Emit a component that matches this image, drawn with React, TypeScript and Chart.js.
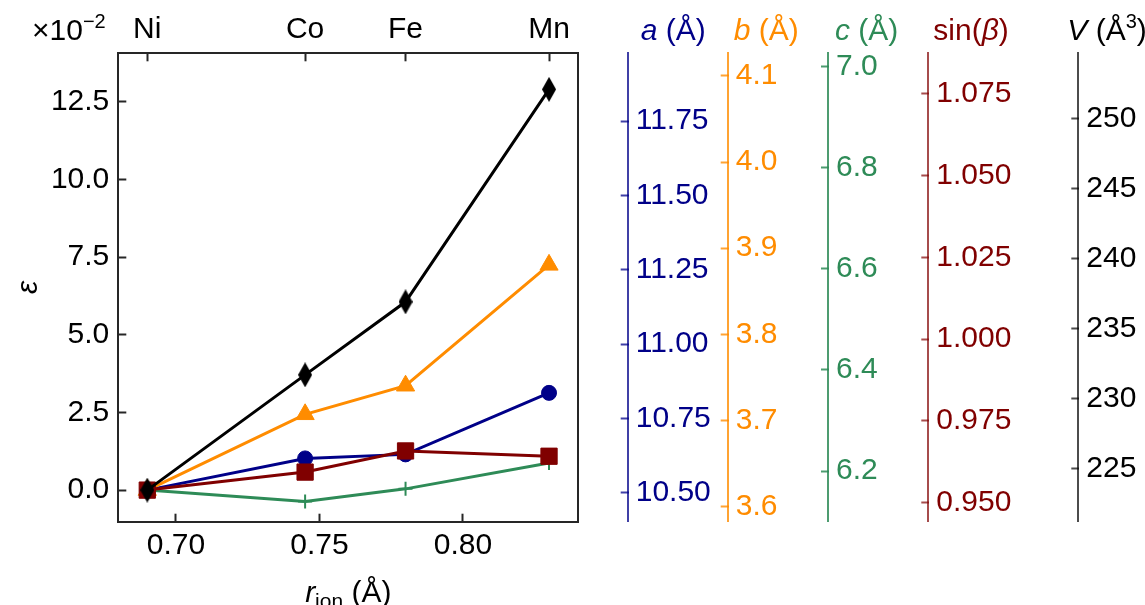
import React, { useEffect, useRef } from 'react';
import { Chart, registerables } from 'chart.js';

Chart.register(...registerables);

// ---------------- data ----------------
const elements = ['Ni', 'Co', 'Fe', 'Mn'];
const rIon = [0.69, 0.745, 0.78, 0.83];
const strainA = [0, 1.02, 1.15, 3.13];
const strainB = [0, 2.44, 3.36, 7.25];
const strainC = [0, -0.37, 0.04, 0.87];
const strainSinBeta = [0, 0.58, 1.26, 1.09];
const strainV = [0, 3.71, 6.06, 12.9];

const xTicks = [0.7, 0.75, 0.8];
const yTicks = [0, 2.5, 5, 7.5, 10, 12.5];
const aTicks = [10.5, 10.75, 11.0, 11.25, 11.5, 11.75];
const bTicks = [3.6, 3.7, 3.8, 3.9, 4.0, 4.1];
const cTicks = [6.2, 6.4, 6.6, 6.8, 7.0];
const sinTicks = [0.95, 0.975, 1.0, 1.025, 1.05, 1.075];
const vTicks = [225, 230, 235, 240, 245, 250];

const xRange = [0.6799, 0.8402];
const yRange = [-1.017, 14.06];
const aRange = [10.4026, 11.9785];
const bRange = [3.5826, 4.1262];
const cRange = [6.0999, 7.0257];
const sinRange = [0.9442, 1.0874];
const vRange = [221.19, 254.69];

// ---------------- style ----------------
const FONT = '"Liberation Sans", Arial, Helvetica, sans-serif';
const SIZE = 30;
const BLUE = '#000088';
const ORANGE = '#FF8C00';
const GREEN = '#2E8B57';
const RED = '#800000';
const BLACK = '#000000';
const FRAME = '#262626';

const W = 1145;
const H = 605;
const LEFT_W = 118.3;
const TOP_H = 53.3;
const BOTTOM_H = 83.3;
const TITLE_BASE = 40;

function makeDiamond(w: number, h: number, color: string) {
  const c = document.createElement('canvas');
  c.width = w;
  c.height = h;
  const g = c.getContext('2d')!;
  g.fillStyle = color;
  g.beginPath();
  g.moveTo(w / 2, 0);
  g.lineTo(w, h / 2);
  g.lineTo(w / 2, h);
  g.lineTo(0, h / 2);
  g.closePath();
  g.fill();
  return c;
}

function extraAxis(weight: number, color: string, lineColor: string, range: number[], ticks: number[], decimals: number, width: number) {
  return {
    type: 'linear',
    axis: 'y',
    position: 'right',
    weight,
    min: range[0],
    max: range[1],
    afterBuildTicks: (s: any) => {
      s.ticks = ticks.map((v) => ({ value: v }));
    },
    afterFit: (s: any) => {
      s.width = width;
    },
    grid: { drawOnChartArea: false, drawTicks: true, tickLength: -7, tickWidth: 2, tickColor: lineColor },
    border: { display: true, color: lineColor, width: 2 },
    ticks: {
      color,
      padding: 15,
      font: { size: SIZE, family: FONT },
      callback: (v: any) => Number(v).toFixed(decimals),
    },
  };
}

type Part = { t: string; italic?: boolean; size?: number; dy?: number };

function drawRuns(ctx: CanvasRenderingContext2D, x: number, y: number, parts: Part[], color: string, measureOnly = false) {
  let cx = x;
  for (const p of parts) {
    ctx.font = `${p.italic ? 'italic ' : ''}${p.size ?? SIZE}px ${FONT}`;
    if (!measureOnly) {
      ctx.fillStyle = color;
      ctx.fillText(p.t, cx, y + (p.dy ?? 0));
    }
    cx += ctx.measureText(p.t).width;
  }
  return cx - x;
}

const titlesPlugin = {
  id: 'titles',
  afterDraw(chart: any) {
    const ctx: CanvasRenderingContext2D = chart.ctx;
    const s = chart.scales;
    const area = chart.chartArea;
    ctx.save();
    ctx.textAlign = 'left';
    ctx.textBaseline = 'alphabetic';

    // multiplier
    drawRuns(ctx, 32, TITLE_BASE, [{ t: '×10' }, { t: '−2', size: 20, dy: -12 }], BLACK);

    // extra axis titles
    drawRuns(ctx, s.a.left + 13, TITLE_BASE, [{ t: 'a', italic: true }, { t: ' (Å)' }], BLUE);
    drawRuns(ctx, s.b.left + 6, TITLE_BASE, [{ t: 'b', italic: true }, { t: ' (Å)' }], ORANGE);
    drawRuns(ctx, s.c.left + 7, TITLE_BASE, [{ t: 'c', italic: true }, { t: ' (Å)' }], GREEN);
    drawRuns(ctx, s.sinb.left + 5, TITLE_BASE, [{ t: 'sin(' }, { t: 'β', italic: true }, { t: ')' }], RED);
    drawRuns(
      ctx,
      s.v.left - 11,
      TITLE_BASE,
      [{ t: 'V', italic: true }, { t: ' (Å' }, { t: '3', size: 20, dy: -12 }, { t: ')' }],
      BLACK
    );

    // x title
    const xParts: Part[] = [{ t: 'r', italic: true }, { t: 'ion', size: 21, dy: 6 }, { t: ' (Å)' }];
    const wX = drawRuns(ctx, 0, 0, xParts, BLACK, true);
    drawRuns(ctx, (area.left + area.right) / 2 - wX / 2, 601.5, xParts, BLACK);

    // y title (rotated)
    ctx.translate(29, (area.top + area.bottom) / 2);
    ctx.rotate(-Math.PI / 2);
    ctx.textAlign = 'center';
    ctx.textBaseline = 'middle';
    ctx.font = `italic ${SIZE}px ${FONT}`;
    ctx.fillStyle = BLACK;
    ctx.fillText('ε', 0, 0);
    ctx.restore();
  },
};

export default function App() {
  const ref = useRef<HTMLCanvasElement | null>(null);

  useEffect(() => {
    if (!ref.current) return;
    const diamond = makeDiamond(14, 25, BLACK);

    const series = (label: string, ys: number[], color: string, style: any, radius: number, borderW = 1) => ({
      label,
      data: rIon.map((x, i) => ({ x, y: ys[i] })),
      borderColor: color,
      backgroundColor: color,
      borderWidth: 3,
      pointStyle: style,
      pointRadius: radius,
      pointBorderWidth: borderW,
      pointBackgroundColor: color,
      pointBorderColor: color,
      tension: 0,
      xAxisID: 'x',
      yAxisID: 'y',
    });

    const chart = new Chart(ref.current, {
      type: 'line',
      data: {
        datasets: [
          series('V', strainV, BLACK, diamond, 12),
          series('sin(β)', strainSinBeta, RED, 'rect', 11.5),
          series('c', strainC, GREEN, 'cross', 7, 2),
          series('b', strainB, ORANGE, 'triangle', 10.5),
          series('a', strainA, BLUE, 'circle', 7.5),
        ],
      },
      options: {
        responsive: false,
        animation: false,
        devicePixelRatio: 1,
        events: [],
        layout: { padding: 0 },
        plugins: { legend: { display: false }, tooltip: { enabled: false } },
        scales: {
          x: {
            type: 'linear',
            position: 'bottom',
            min: xRange[0],
            max: xRange[1],
            afterBuildTicks: (s: any) => {
              s.ticks = xTicks.map((v) => ({ value: v }));
            },
            afterFit: (s: any) => {
              s.height = BOTTOM_H;
            },
            grid: { drawOnChartArea: false, drawTicks: true, tickLength: -8, tickWidth: 2, tickColor: FRAME },
            border: { display: true, color: FRAME, width: 2 },
            ticks: {
              color: BLACK,
              padding: 14,
              maxRotation: 0,
              font: { size: SIZE, family: FONT },
              callback: (v: any) => Number(v).toFixed(2),
            },
          },
          x2: {
            type: 'linear',
            axis: 'x',
            position: 'top',
            min: xRange[0],
            max: xRange[1],
            afterBuildTicks: (s: any) => {
              s.ticks = rIon.map((v) => ({ value: v }));
            },
            afterFit: (s: any) => {
              s.height = TOP_H;
            },
            grid: { drawOnChartArea: false, drawTicks: true, tickLength: -8, tickWidth: 2, tickColor: FRAME },
            border: { display: true, color: FRAME, width: 2 },
            ticks: {
              color: BLACK,
              padding: 14,
              maxRotation: 0,
              autoSkip: false,
              font: { size: SIZE, family: FONT },
              callback: (_v: any, i: number) => elements[i],
            },
          },
          y: {
            type: 'linear',
            position: 'left',
            min: yRange[0],
            max: yRange[1],
            afterBuildTicks: (s: any) => {
              s.ticks = yTicks.map((v) => ({ value: v }));
            },
            afterFit: (s: any) => {
              s.width = LEFT_W;
            },
            grid: { drawOnChartArea: false, drawTicks: true, tickLength: -8, tickWidth: 2, tickColor: FRAME },
            border: { display: true, color: FRAME, width: 2 },
            ticks: {
              color: BLACK,
              padding: 17,
              font: { size: SIZE, family: FONT },
              callback: (v: any) => Number(v).toFixed(1),
            },
          },
          frame: {
            type: 'linear',
            axis: 'y',
            position: 'right',
            weight: 0,
            afterFit: (s: any) => {
              s.width = 49.4;
            },
            grid: { drawOnChartArea: false, drawTicks: false },
            border: { display: true, color: FRAME, width: 2 },
            ticks: { display: false },
          },
          a: extraAxis(1, BLUE, 'rgba(0,0,136,0.75)', aRange, aTicks, 2, 100),
          b: extraAxis(2, ORANGE, 'rgba(255,140,0,0.8)', bRange, bTicks, 1, 100.3),
          c: extraAxis(3, GREEN, 'rgba(46,139,87,0.85)', cRange, cTicks, 1, 100.3),
          sinb: extraAxis(4, RED, 'rgba(128,0,0,0.7)', sinRange, sinTicks, 3, 150),
          v: extraAxis(5, BLACK, 'rgba(0,0,0,0.7)', vRange, vTicks, 0, 66.7),
        },
      } as any,
      plugins: [titlesPlugin],
    });
    return () => chart.destroy();
  }, []);

  return (
    <div style={{ position: 'absolute', left: 0, top: 0, width: W, height: H, background: '#fff' }}>
      <canvas ref={ref} width={W} height={H} style={{ display: 'block', width: W, height: H }} />
    </div>
  );
}
